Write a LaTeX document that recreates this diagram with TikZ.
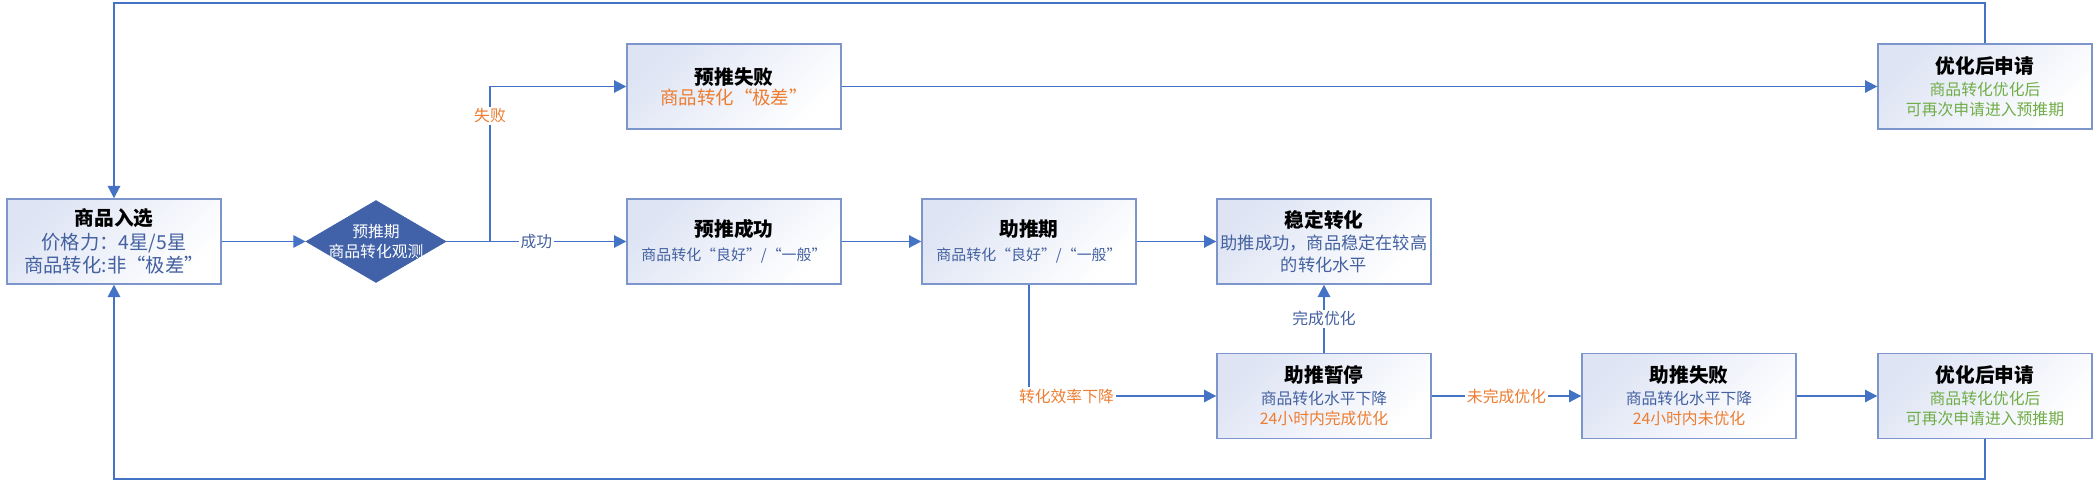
\documentclass[tikz,border=0pt]{standalone}
\usepackage{fontspec}
\setmainfont{Noto Sans CJK SC}
\usetikzlibrary{
  arrows.meta,
  shapes.geometric
}

\definecolor{lineblue}{RGB}{68,114,196}
\definecolor{boxedge}{RGB}{124,150,204}
\definecolor{boxtint}{RGB}{222,228,244}
\definecolor{subblue}{RGB}{68,97,160}
\definecolor{darkblue}{RGB}{65,98,168}
\definecolor{noteorange}{RGB}{237,125,49}
\definecolor{notegreen}{RGB}{112,173,71}

\newcommand{\ttl}[1]{{\fontsize{11.2}{13}\selectfont\bfseries #1}}

\begin{document}
\begin{tikzpicture}[
  >={Triangle[length=7pt,width=7pt]},
  flow/.style={->,line width=1.1pt,lineblue},
  stage/.style={draw=boxedge,line width=0.8pt,
    top color=boxtint,bottom color=white,shading angle=45,
    minimum width=4.28cm,minimum height=1.7cm,align=center,
    inner sep=2pt,font=\fontsize{9}{11.5}\selectfont},
  decision/.style={diamond,draw=darkblue,fill=darkblue,
    minimum width=2.8cm,minimum height=1.64cm,inner sep=0pt},
  tag/.style={fill=white,inner sep=1pt,font=\fontsize{9}{11}\selectfont}
]
\useasboundingbox (0,0) rectangle (41.98,9.66);

%--------------------
% 入选与预推期
%--------------------
\node[stage,font=\fontsize{11}{13.5}\selectfont] (sel) at (2.28,4.83)
  {\ttl{商品入选}\\
   \textcolor{subblue}{价格力：4星/5星}\\
   \textcolor{subblue}{商品转化:非“极差”}};

\node[decision,
  label={[text=white,align=center,font=\fontsize{9}{11.5}\selectfont]center:预推期\\商品转化观测}]
  (obs) at (7.52,4.83) {};

\node[stage] (fail) at (14.68,7.93)
  {\ttl{预推失败}\\
   {\fontsize{10.5}{12}\selectfont\textcolor{noteorange}{商品转化“极差”}}};

\node[stage] (ok) at (14.68,4.83)
  {\ttl{预推成功}\\[2pt]
   {\fontsize{8.5}{10}\selectfont\textcolor{subblue}{商品转化“良好”/“一般”}}};

%--------------------
% 助推期
%--------------------
\node[stage] (boost) at (20.58,4.83)
  {\ttl{助推期}\\[2pt]
   {\fontsize{8.5}{10}\selectfont\textcolor{subblue}{商品转化“良好”/“一般”}}};

\node[stage,font=\fontsize{9.8}{12.5}\selectfont] (stable) at (26.48,4.83)
  {\ttl{稳定转化}\\
   \textcolor{subblue}{助推成功，商品稳定在较高}\\
   \textcolor{subblue}{的转化水平}};

\node[stage] (pause) at (26.48,1.74)
  {\ttl{助推暂停}\\[1pt]
   \textcolor{subblue}{商品转化水平下降}\\
   \textcolor{noteorange}{24小时内完成优化}};

\node[stage] (bfail) at (33.78,1.74)
  {\ttl{助推失败}\\[1pt]
   \textcolor{subblue}{商品转化水平下降}\\
   \textcolor{noteorange}{24小时内未优化}};

%--------------------
% 再次申请
%--------------------
\node[stage] (reA) at (39.70,7.93)
  {\ttl{优化后申请}\\[1pt]
   \textcolor{notegreen}{商品转化优化后}\\
   \textcolor{notegreen}{可再次申请进入预推期}};

\node[stage] (reB) at (39.70,1.74)
  {\ttl{优化后申请}\\[1pt]
   \textcolor{notegreen}{商品转化优化后}\\
   \textcolor{notegreen}{可再次申请进入预推期}};

% 连线
\coordinate (fork) at (9.80,4.83);
\coordinate (topL) at (2.28,9.60);
\coordinate (botL) at (2.28,0.08);

\draw[flow] (sel) -- (obs);
\draw[flow] (obs.east) -- node[tag,text=subblue] {成功} (ok);
\draw[flow] (fork) |- node[tag,pos=0.405,text=noteorange] {失败} (fail);
\draw[flow] (fail) -- (reA);
\draw[flow] (ok) -- (boost);
\draw[flow] (boost) -- (stable);
\draw[flow] (boost.south) |- node[tag,pos=0.6,text=noteorange] {转化效率下降} (pause);
\draw[flow] (pause) -- node[tag,text=subblue] {完成优化} (stable);
\draw[flow] (pause) -- node[tag,text=noteorange] {未完成优化} (bfail);
\draw[flow] (bfail) -- (reB);

% 回到入选
\draw[flow] (reA.north) |- (topL) -- (sel.north);
\draw[flow] (reB.south) |- (botL) -- (sel.south);

\end{tikzpicture}
\end{document}
